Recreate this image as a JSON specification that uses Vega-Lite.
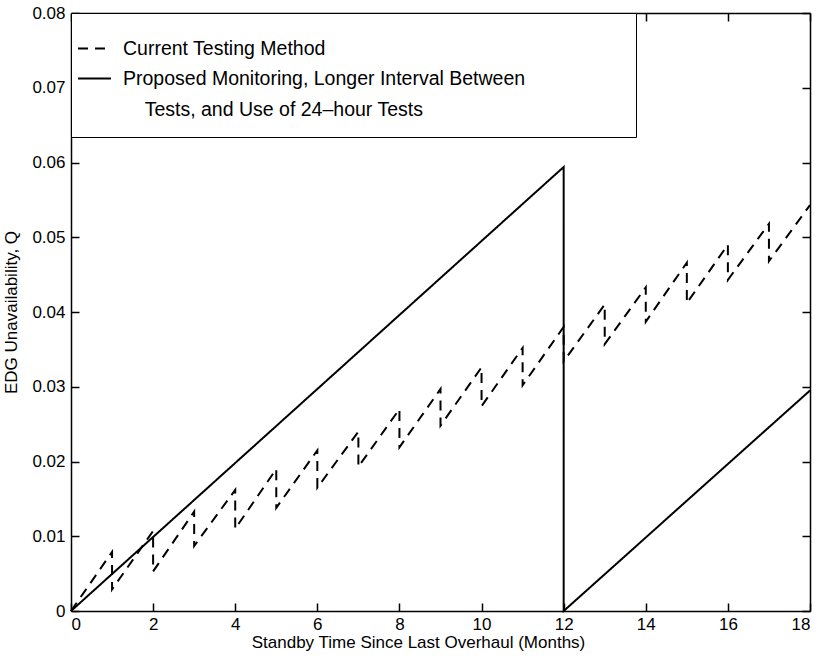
{
  "$schema": "https://vega.github.io/schema/vega-lite/v6.json",
  "width": 739,
  "height": 598,
  "autosize": "none",
  "padding": {"left": 71, "top": 13, "right": 13, "bottom": 56},
  "background": "white",
  "config": {
    "view": {"stroke": null},
    "font": "Liberation Sans",
    "axis": {
      "domainColor": "black", "domainWidth": 1.5,
      "tickColor": "black", "tickWidth": 1.5, "tickSize": -8,
      "grid": false,
      "labelFont": "Liberation Sans", "labelFontSize": 17, "labelColor": "black",
      "titleFont": "Liberation Sans", "titleFontSize": 17, "titleFontWeight": "normal", "titleColor": "black"
    },
    "legend": {
      "labelFont": "Liberation Sans", "labelFontSize": 19.5, "labelColor": "black"
    }
  },
  "data": {"values": [
    {"series": "Current Testing Method", "seq": 0, "month": 0, "q": 0},
    {"series": "Current Testing Method", "seq": 1, "month": 1, "q": 0.0079},
    {"series": "Current Testing Method", "seq": 2, "month": 1, "q": 0.0029},
    {"series": "Current Testing Method", "seq": 3, "month": 2, "q": 0.0107},
    {"series": "Current Testing Method", "seq": 4, "month": 2, "q": 0.0053},
    {"series": "Current Testing Method", "seq": 5, "month": 3, "q": 0.0133},
    {"series": "Current Testing Method", "seq": 6, "month": 3, "q": 0.0087},
    {"series": "Current Testing Method", "seq": 7, "month": 4, "q": 0.0162},
    {"series": "Current Testing Method", "seq": 8, "month": 4, "q": 0.011},
    {"series": "Current Testing Method", "seq": 9, "month": 5, "q": 0.019},
    {"series": "Current Testing Method", "seq": 10, "month": 5, "q": 0.0138},
    {"series": "Current Testing Method", "seq": 11, "month": 6, "q": 0.0215},
    {"series": "Current Testing Method", "seq": 12, "month": 6, "q": 0.0165},
    {"series": "Current Testing Method", "seq": 13, "month": 7, "q": 0.024},
    {"series": "Current Testing Method", "seq": 14, "month": 7, "q": 0.0193},
    {"series": "Current Testing Method", "seq": 15, "month": 8, "q": 0.027},
    {"series": "Current Testing Method", "seq": 16, "month": 8, "q": 0.0219},
    {"series": "Current Testing Method", "seq": 17, "month": 9, "q": 0.0297},
    {"series": "Current Testing Method", "seq": 18, "month": 9, "q": 0.0248},
    {"series": "Current Testing Method", "seq": 19, "month": 10, "q": 0.0326},
    {"series": "Current Testing Method", "seq": 20, "month": 10, "q": 0.0274},
    {"series": "Current Testing Method", "seq": 21, "month": 11, "q": 0.0352},
    {"series": "Current Testing Method", "seq": 22, "month": 11, "q": 0.0302},
    {"series": "Current Testing Method", "seq": 23, "month": 12, "q": 0.038},
    {"series": "Current Testing Method", "seq": 24, "month": 12, "q": 0.0334},
    {"series": "Current Testing Method", "seq": 25, "month": 13, "q": 0.041},
    {"series": "Current Testing Method", "seq": 26, "month": 13, "q": 0.0357},
    {"series": "Current Testing Method", "seq": 27, "month": 14, "q": 0.0433},
    {"series": "Current Testing Method", "seq": 28, "month": 14, "q": 0.0387},
    {"series": "Current Testing Method", "seq": 29, "month": 15, "q": 0.0466},
    {"series": "Current Testing Method", "seq": 30, "month": 15, "q": 0.0412},
    {"series": "Current Testing Method", "seq": 31, "month": 16, "q": 0.049},
    {"series": "Current Testing Method", "seq": 32, "month": 16, "q": 0.0443},
    {"series": "Current Testing Method", "seq": 33, "month": 17, "q": 0.0518},
    {"series": "Current Testing Method", "seq": 34, "month": 17, "q": 0.0468},
    {"series": "Current Testing Method", "seq": 35, "month": 18, "q": 0.0543},
    {"series": "Proposed Monitoring", "seq": 0, "month": 0, "q": 0},
    {"series": "Proposed Monitoring", "seq": 1, "month": 12, "q": 0.0594},
    {"series": "Proposed Monitoring", "seq": 2, "month": 12, "q": 0},
    {"series": "Proposed Monitoring", "seq": 3, "month": 18, "q": 0.0295}
  ]},
  "layer": [
    {
      "mark": {"type": "line", "strokeWidth": 2, "color": "black"},
      "encoding": {
        "x": {"field": "month", "type": "quantitative",
              "scale": {"domain": [0, 18], "nice": false, "zero": false},
              "axis": {"values": [0, 2, 4, 6, 8, 10, 12, 14, 16, 18], "labelPadding": 13, "title": "Standby Time Since Last Overhaul (Months)", "titlePadding": 2, "titleX": 347}},
        "y": {"field": "q", "type": "quantitative",
              "scale": {"domain": [0, 0.08], "nice": false},
              "axis": {"values": [0, 0.01, 0.02, 0.03, 0.04, 0.05, 0.06, 0.07, 0.08], "labelExpr": "datum.value == 0 ? '0' : format(datum.value, '.2f')", "labelPadding": 14, "title": "EDG Unavailability, Q", "titlePadding": 11}},
        "order": {"field": "seq", "type": "quantitative"},
        "strokeDash": {"field": "series", "type": "nominal",
          "scale": {"domain": ["Current Testing Method", "Proposed Monitoring"], "range": [[10, 7], [1, 0]]},
          "legend": {
            "title": null, "orient": "top-left", "offset": 0,
            "strokeColor": "black", "fillColor": "white", "padding": 18,
            "symbolType": "stroke", "symbolSize": 1089, "symbolStrokeWidth": 2, "symbolStrokeColor": "black",
            "symbolOffset": -12, "labelOffset": 11, "rowPadding": 3, "labelLimit": 900,
            "encode": {"labels": {"update": {"lineHeight": {"value": 31}}}},
            "labelExpr": "datum.label == 'Proposed Monitoring' ? ['Proposed Monitoring, Longer Interval Between\u00a0\u00a0\u00a0\u00a0\u00a0\u00a0\u00a0\u00a0\u00a0\u00a0\u00a0\u00a0\u00a0\u00a0\u00a0\u00a0\u00a0\u200b', '\u200b\u00a0\u00a0\u00a0\u00a0Tests, and Use of 24\u2013hour Tests'] : datum.label"
          }}
      }
    },
    {
      "mark": {"type": "point", "opacity": 0},
      "encoding": {
        "x": {"field": "month", "type": "quantitative",
              "axis": {"orient": "top", "values": [0, 2, 4, 6, 8, 10, 12, 14, 16, 18], "labels": false, "title": null}},
        "y": {"field": "q", "type": "quantitative",
              "axis": {"orient": "right", "values": [0, 0.01, 0.02, 0.03, 0.04, 0.05, 0.06, 0.07, 0.08], "labels": false, "title": null}}
      }
    }
  ],
  "resolve": {"axis": {"x": "independent", "y": "independent"}}
}
